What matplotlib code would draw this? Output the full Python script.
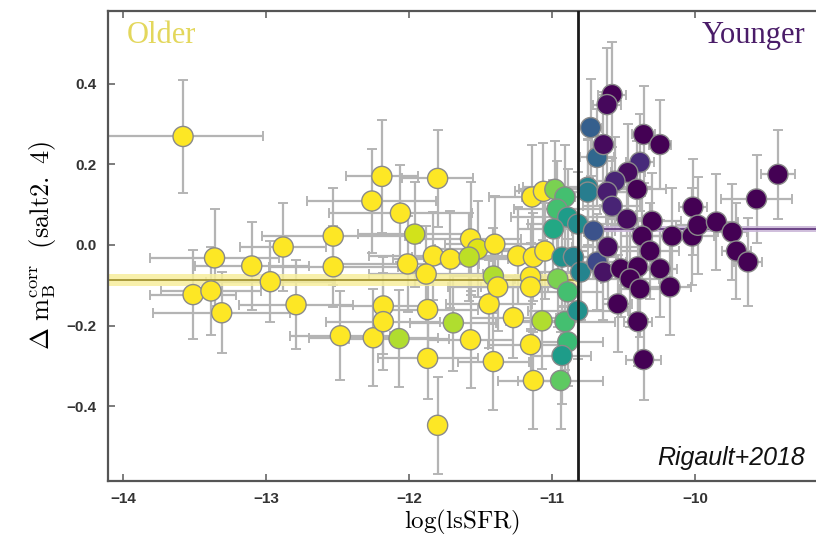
import numpy as np
import matplotlib
matplotlib.use("Agg")
import matplotlib.pyplot as plt

# ---------------- data ----------------
lssfr = [
    -13.58, -13.36, -13.51, -13.385, -13.31, -13.10, -12.97, -12.88, -12.79, -12.53,
    -12.53, -12.48, -12.25, -12.18, -12.18, -12.07, -12.19, -11.80, -12.26, -12.06,
    -11.96, -11.57, -11.52, -11.40, -11.83, -11.71, -11.58, -12.01, -11.88, -11.87,
    -11.69, -11.57, -11.87, -11.44, -11.41, -11.80, -11.41, -11.38, -11.27, -11.07,
    -11.15, -11.13, -11.15, -11.15, -11.14, -11.06, -11.24, -11.13, -11.05,
    -10.98, -10.91, -10.965, -10.89, -10.99, -10.82, -10.75, -10.93, -10.85, -10.80,
    -10.96, -10.89, -10.91, -10.82, -10.89, -10.93, -10.94,
    -10.73, -10.685, -10.75, -10.71, -10.685,
    -10.58, -10.615, -10.36, -10.245, -10.64, -10.385, -10.47, -10.56, -10.615, -10.405,
    -10.58, -10.475, -10.30, -10.61, -10.37, -10.16, -10.02, -10.315, -10.64, -10.52,
    -10.40, -10.455, -10.385, -10.245, -10.175, -10.54, -10.40, -10.36,
    -10.015, -9.98, -9.85, -9.74, -9.71, -9.63, -9.57, -9.42,
]
dmb = [
    0.269, -0.032, -0.123, -0.114, -0.168, -0.052, -0.091, -0.005, -0.148, 0.022,
    -0.054, -0.225, -0.230, -0.151, -0.190, -0.232, 0.170, 0.165, 0.109, 0.079,
    0.027, 0.015, -0.010, 0.002, -0.027, -0.035, -0.030, -0.047, -0.072, -0.160,
    -0.193, -0.235, -0.281, -0.146, -0.289, -0.447, -0.077, -0.104, -0.180, -0.188,
    -0.247, -0.336, -0.079, -0.104, 0.119, 0.133, -0.027, -0.030, -0.015,
    0.138, 0.119, 0.089, 0.069, 0.040, 0.052, 0.143, -0.030, -0.030, -0.067,
    -0.084, -0.116, -0.190, -0.163, -0.240, -0.274, -0.336,
    0.291, 0.217, 0.131, 0.035, -0.042,
    0.373, 0.348, 0.274, 0.249, 0.249, 0.205, 0.180, 0.158, 0.131, 0.138,
    0.096, 0.064, 0.059, -0.005, 0.022, 0.022, 0.022, -0.015, -0.067, -0.059,
    -0.054, -0.084, -0.109, -0.059, -0.104, -0.146, -0.190, -0.284,
    0.094, 0.049, 0.057, 0.032, -0.015, -0.042, 0.114, 0.175,
]
lssfr_err = [
    0.56, 0.45, 0.30, 0.35, 0.48, 0.40, 0.45, 0.30, 0.40, 0.50,
    0.45, 0.35, 0.45, 0.30, 0.40, 0.35, 0.25, 0.25, 0.45, 0.50,
    0.40, 0.35, 0.30, 0.35, 0.45, 0.40, 0.40, 0.50, 0.40, 0.35,
    0.30, 0.30, 0.35, 0.30, 0.25, 0.06, 0.30, 0.35, 0.30, 0.25,
    0.30, 0.25, 0.30, 0.35, 0.30, 0.20, 0.35, 0.30, 0.30,
    0.25, 0.30, 0.30, 0.40, 0.25, 0.35, 0.45, 0.30, 0.30, 0.35,
    0.30, 0.25, 0.35, 0.35, 0.25, 0.20, 0.30,
    0.08, 0.12, 0.40, 0.15, 0.20,
    0.10, 0.10, 0.08, 0.08, 0.08, 0.10, 0.12, 0.15, 0.15, 0.20,
    0.20, 0.15, 0.20, 0.25, 0.15, 0.20, 0.15, 0.20, 0.15, 0.15,
    0.15, 0.20, 0.15, 0.12, 0.15, 0.10, 0.10, 0.12,
    0.10, 0.15, 0.15, 0.10, 0.10, 0.10, 0.25, 0.12,
]
dmb_err = [
    0.14, 0.12, 0.11, 0.11, 0.10, 0.11, 0.10, 0.11, 0.11, 0.12,
    0.10, 0.11, 0.12, 0.12, 0.12, 0.12, 0.14, 0.12, 0.13, 0.12,
    0.13, 0.14, 0.12, 0.12, 0.11, 0.12, 0.11, 0.12, 0.12, 0.12,
    0.12, 0.12, 0.10, 0.11, 0.12, 0.12, 0.12, 0.11, 0.10, 0.12,
    0.10, 0.12, 0.13, 0.11, 0.13, 0.12, 0.12, 0.11, 0.12,
    0.12, 0.13, 0.12, 0.12, 0.12, 0.13, 0.12, 0.12, 0.12, 0.12,
    0.12, 0.13, 0.12, 0.12, 0.11, 0.12, 0.12,
    0.12, 0.12, 0.13, 0.12, 0.12,
    0.13, 0.14, 0.12, 0.11, 0.13, 0.12, 0.12, 0.11, 0.12, 0.12,
    0.12, 0.12, 0.12, 0.13, 0.12, 0.12, 0.12, 0.12, 0.12, 0.12,
    0.12, 0.12, 0.12, 0.12, 0.12, 0.12, 0.11, 0.10,
    0.12, 0.12, 0.12, 0.12, 0.12, 0.11, 0.11, 0.11,
]
p_old = (
    [1.0] * 15 + [0.88] + [1.0] * 4 + [0.93, 1.0, 0.95, 1.0, 1.0, 1.0, 0.9, 1.0, 1.0, 1.0,
                                        0.88, 1.0, 1.0, 1.0, 1.0, 1.0, 0.88, 1.0, 1.0, 0.88,
                                        1.0, 1.0, 1.0, 1.0, 1.0, 1.0, 1.0, 1.0, 1.0]
    + [0.8, 0.7, 0.7, 0.55, 0.6, 0.48, 0.45, 0.5, 0.45, 0.45,
       0.8, 0.7, 0.7, 0.5, 0.68, 0.55, 0.75]
    + [0.3, 0.33, 0.42, 0.25, 0.22]
    + [0.0, 0.02, 0.0, 0.0, 0.03, 0.12, 0.03, 0.1, 0.08, 0.0,
       0.1, 0.03, 0.0, 0.03, 0.0, 0.0, 0.0, 0.0, 0.05, 0.0,
       0.0, 0.0, 0.0, 0.0, 0.0, 0.0, 0.0, 0.0]
    + [0.0] * 8
)

split = -10.82
old_mean, old_err = -0.086, 0.015
young_mean, young_err = 0.040, 0.007

# ---------------- figure ----------------
plt.rcParams['mathtext.fontset'] = 'cm'
fig = plt.figure(figsize=(8.16, 5.41), dpi=100)
ax = fig.add_axes([108 / 816, 1 - 481 / 541, 1 - 108 / 816, (481 - 11) / 541])

ax.errorbar(lssfr, dmb, xerr=lssfr_err, yerr=dmb_err, fmt='none',
            ecolor='#b4b4b4', elinewidth=1.6, capsize=3.5, capthick=1.4, zorder=1)

xmin, xmax = -14.105, -9.154
ax.fill_between([xmin, split], old_mean - old_err, old_mean + old_err,
                color='#f7ee9c', alpha=0.85, lw=0, zorder=2)
ax.plot([xmin, split], [old_mean, old_mean], color='#9c8d2a', lw=1.2, zorder=2)
ax.fill_between([split, xmax], young_mean - young_err, young_mean + young_err,
                color='#c8b4d6', alpha=0.85, lw=0, zorder=2)
ax.plot([split, xmax], [young_mean, young_mean], color='#5b2f78', lw=1.2, zorder=2)

ax.scatter(lssfr, dmb, c=p_old, cmap='viridis', vmin=0, vmax=1, s=210,
           edgecolors='#8a8a8a', linewidths=1.0, zorder=3)

ax.axvline(split, color='#1a1a1a', lw=2.0, zorder=4)

ax.set_xlim(xmin, xmax)
ax.set_ylim(-0.585, 0.58)
ax.set_xticks([-14, -13, -12, -11, -10])
ax.set_yticks([-0.4, -0.2, 0.0, 0.2, 0.4])
ax.set_xticklabels(['\u221214', '\u221213', '\u221212', '\u221211', '\u221210'])
ax.set_yticklabels(['\u22120.4', '\u22120.2', '0.0', '0.2', '0.4'])
ax.tick_params(direction='in', top=True, right=False, length=5, width=1.2,
               color='#666666', labelsize=11, labelcolor='#333333', pad=8)
for lab in ax.get_xticklabels() + ax.get_yticklabels():
    lab.set_family('Liberation Sans')
    lab.set_weight('bold')
for sp in ['left', 'bottom', 'top']:
    ax.spines[sp].set_color('#555555')
    ax.spines[sp].set_linewidth(1.6)
ax.spines['right'].set_visible(False)

ax.set_xlabel(r'$\mathrm{log(lsSFR)}$', fontsize=18, labelpad=1)
ax.set_ylabel(r'$\Delta\ \mathrm{m}_{\mathrm{B}}^{\mathrm{corr}}\ \ (\mathrm{salt2.\ 4})$',
              fontsize=19, labelpad=6)

ax.text(0.027, 0.932, 'Older', transform=ax.transAxes, family='Liberation Serif',
        fontsize=22, color='#e3d75c', ha='left', va='baseline')
ax.text(0.9845, 0.932, 'Younger', transform=ax.transAxes, family='Liberation Serif',
        fontsize=22, color='#4a1c68', ha='right', va='baseline')
ax.text(0.9845, 0.034, 'Rigault+2018', transform=ax.transAxes, family='Liberation Sans',
        style='italic', fontsize=18, color='#111111', ha='right', va='baseline')

fig.savefig('out.png', dpi=100)
